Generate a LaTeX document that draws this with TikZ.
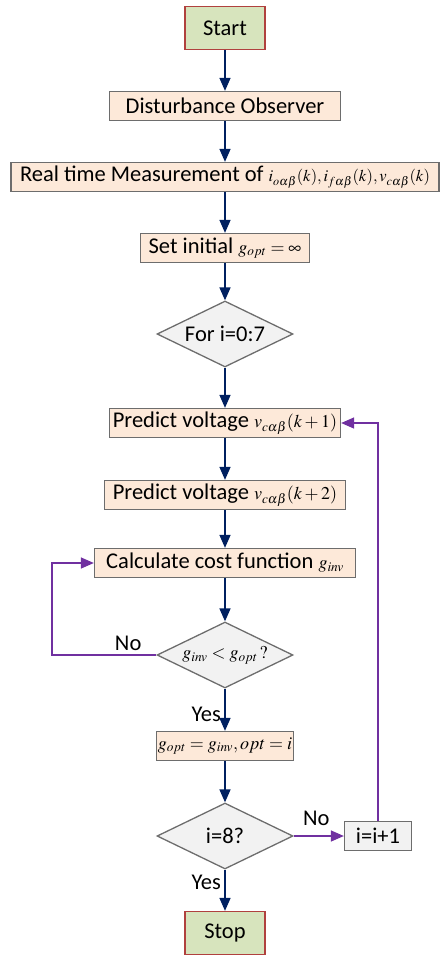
\documentclass[tikz,border=0pt]{standalone}
\usepackage{mathptmx}
\usepackage{fontspec}
\setmainfont{Carlito}
\usetikzlibrary{shapes.geometric,arrows.meta}
\definecolor{navyline}{HTML}{002060}
\definecolor{loopviolet}{HTML}{7030A0}
\definecolor{peach}{HTML}{FDE9D9}
\definecolor{termgreen}{HTML}{D7E4BD}
\definecolor{termred}{HTML}{B0413E}
\definecolor{edgegray}{HTML}{6D6D6D}
\definecolor{softgray}{HTML}{F2F2F2}
\newcommand\mm[2][18]{{\fontsize{#1}{22}\selectfont$#2$}}
\begin{document}
\begin{tikzpicture}[x=1pt, y=-1pt, font=\fontsize{22.5}{26}\selectfont,
  box/.style={rectangle, draw=edgegray, fill=peach, line width=1.3pt, minimum height=29pt, inner sep=1pt},
  term/.style={rectangle, draw=termred, fill=termgreen, line width=1.3pt, minimum width=80pt, minimum height=43pt},
  decide/.style={diamond, aspect=2, draw=edgegray, fill=softgray, line width=1.3pt, inner sep=0pt, minimum width=136pt, minimum height=66pt},
  flow/.style={draw=navyline, line width=1.6pt, -{Triangle[length=13pt,width=11pt]}},
  back/.style={draw=loopviolet, line width=1.4pt, -{Triangle[length=13pt,width=11pt]}}]
  \useasboundingbox (0,0) rectangle (443,956);
  \node[term] (start) at (225,28) {Start};
  \node[box, minimum width=231pt] (dob) at (225,106) {Disturbance Observer};
  \node[box, minimum width=428pt] (meas) at (225,177) {Real time Measurement of \mm[16.5]{i_{o\alpha\beta}(k),i_{f\alpha\beta}(k),v_{c\alpha\beta}(k)}};
  \node[box, minimum width=169pt] (init) at (225,248) {Set initial \mm{g_{opt}=\infty}};
  \node[decide] (loop) at (225,334) {For i=0:7};
  \node[box, minimum width=231pt] (pred1) at (225,423) {Predict voltage \mm{v_{c\alpha\beta}(k+1)}};
  \node[box, minimum width=241pt] (pred2) at (225,495) {Predict voltage \mm{v_{c\alpha\beta}(k+2)}};
  \node[box, minimum width=261pt] (cost) at (225,563) {Calculate cost function \mm{g_{inv}}};
  \node[decide] (cmp) at (225,655) {\mm{g_{inv}<g_{opt}\,?}};
  \node[box, minimum width=134pt] (upd) at (225,746) {\mm{g_{opt}=g_{inv}, opt=i}};
  \node[decide] (last) at (225,836) {i=8?};
  \node[box, fill=softgray, minimum width=67pt] (inc) at (378,836) {i=i+1};
  \node[term] (stop) at (225,933) {Stop};
  \coordinate (lft) at (52,600);
  \draw[flow] (start) -- (dob);
  \draw[flow] (dob) -- (meas);
  \draw[flow] (meas) -- (init);
  \draw[flow] (init) -- (loop);
  \draw[flow] (loop) -- (pred1);
  \draw[flow] (pred1) -- (pred2);
  \draw[flow] (pred2) -- (cost);
  \draw[flow] (cost) -- (cmp);
  \draw[flow] (cmp) -- node[left, pos=0.6] {Yes} (upd);
  \draw[flow] (upd) -- (last);
  \draw[flow] (last) -- node[left, pos=0.3] {Yes} (stop);
  \draw[back] (last) -- node[above=6pt, pos=0.45] {No} (inc);
  \draw[back] (inc.north) |- (pred1.east);
  \draw[back] (cmp.west) -- node[above, pos=0.27] {No} (cmp.west -| lft) |- (cost.west);
\end{tikzpicture}
\end{document}
